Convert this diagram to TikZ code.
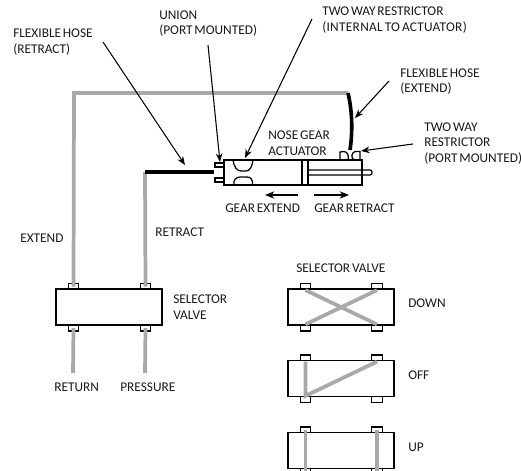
\documentclass[tikz,border=0pt]{standalone}
\usepackage{fontspec}
\setmainfont[WordSpace=0.6]{Carlito}
\usetikzlibrary{arrows.meta}
\definecolor{pipe}{HTML}{A9A9A9}
\tikzset{
  x=0.75pt,y=-0.75pt,
  lbl/.style={inner sep=0pt,anchor=west,align=left,font=\fontsize{10pt}{11.6pt}\selectfont,text=black!90},
  outline/.style={draw=black,line width=0.95pt},
  box/.style={outline,fill=white,rectangle,inner sep=0pt,minimum width=79.5pt,minimum height=27pt},
  port/.style={outline,fill=white,rectangle,inner sep=0pt,minimum width=8pt,minimum height=4.5pt},
  pipeline/.style={draw=pipe,line width=2.8pt},
  hose/.style={draw=black,line width=2.7pt},
  lead/.style={draw=black,line width=0.8pt,-{Stealth[length=6.5pt,width=5pt]}},
  motion/.style={draw=black,line width=0.95pt,-{Stealth[length=7pt,width=5.5pt]}},
}
\begin{document}
\begin{tikzpicture}
\useasboundingbox (0,0) rectangle (521,471);
\clip (0,0) rectangle (521,471);
% coordinates
\coordinate (extcorner) at (74,93);
\coordinate (hosetop) at (348,93);
\coordinate (retcorner) at (145,172);
\coordinate (retend) at (214,172);
\coordinate (hosebot) at (350,150);
\coordinate (returnend) at (73,373);
\coordinate (pressend) at (145,373);
% pipes below ports
\node[port] (p1t) at (73.5,286.5) {};
\node[port] (p2t) at (145.5,286.5) {};
\node[port] (p1b) at (73.5,328) {};
\node[port] (p2b) at (145.5,328) {};
\draw[pipeline,line join=miter] (p1t.center) -- (extcorner) -- (hosetop);
\draw[pipeline] (p2t.center) -- (retcorner);
\draw[pipeline] (p1b.center) -- (returnend);
\draw[pipeline] (p2b.center) -- (pressend);
\node[box] (selector) at (109,307) {};
\draw[hose] (hosetop) .. controls (352,110) and (353,130) .. (hosebot);
\draw[hose] (retcorner) -- (retend);
% actuator
\node[outline,rectangle,inner sep=0pt,minimum width=103.5pt,minimum height=18.75pt] (actuator) at (293,172.5) {};
\node[outline,rectangle,inner sep=0pt,minimum width=4.5pt,minimum height=18.75pt] (piston) at (305,172.5) {};
\coordinate (rodA) at (308,170);
\coordinate (rodB) at (308,175);
\coordinate (rodC) at (372,170);
\coordinate (rodD) at (372,175);
\draw[outline,rounded corners=1.5pt] (rodA) -- (rodC) -- (rodD) -- (rodB);
\node[port,minimum width=6.75pt,minimum height=3pt] (unionA) at (219.5,165) {};
\node[port,minimum width=6.75pt,minimum height=3pt] (unionB) at (219.5,180) {};
% internal restrictor
\draw[outline] (233,160) .. controls (234,167) and (237,171) .. (241,171) -- (246,171) .. controls (250,171) and (252,167) .. (253,160);
\draw[outline] (234,185) .. controls (233,180) and (236,177) .. (240,177) -- (247,177) .. controls (251,177) and (253,180) .. (252.5,185);
% port restrictor
\draw[outline] (340,160) -- (340,152) -- (344,151.5) .. controls (348,152) and (349,156) .. (348,160);
\draw[outline] (360,151.5) -- (355,151.5) .. controls (351,153) and (351,158) .. (354,160) -- (360,160) -- cycle;
\coordinate (restport) at (361,151);
% right valves
\foreach \n/\y in {down/307,off/378.5,up/450.5}{
  \node[port] (\n a) at (305.5,\y-20.5) {};
  \node[port] (\n b) at (377,\y-20.5) {};
  \node[port] (\n c) at (305.5,\y+21) {};
  \node[port] (\n d) at (377,\y+21) {};
  \node[box] (\n) at (341,\y) {};
}
\draw[pipeline] (downa.south) -- (downd.north);
\draw[pipeline] (downb.south) -- (downc.north);
\draw[pipeline] (offa.south) -- (offc.north) -- (offb.south);
\draw[pipeline] (upa.center) -- (upc.south);
\draw[pipeline] (upb.center) -- (upd.south);
% labels
\node[lbl] (flexret) at (13,42) {FLEXIBLE HOSE\\(RETRACT)};
\node[lbl] (union) at (159,23.5) {UNION\\(PORT MOUNTED)};
\node[lbl] (twoint) at (322,20) {TWO WAY RESTRICTOR\\\addfontfeature{LetterSpace=2.2}(INTERNAL TO ACTUATOR)};
\node[lbl] (flexext) at (400,81.5) {FLEXIBLE HOSE\\(EXTEND)};
\node[lbl] (twoport) at (424,143.5) {TWO WAY\\RESTRICTOR\\(PORT MOUNTED)};
\node[lbl] (nose) at (268,143) {NOSE GEAR\\ACTUATOR};
\node[lbl] (gearext) at (225,208) {GEAR EXTEND};
\node[lbl] (gearret) at (314,208) {GEAR RETRACT};
\node[lbl] (extend) at (20,238) {EXTEND};
\node[lbl] (retract) at (155,232) {RETRACT};
\node[lbl] (selname) at (173,307) {SELECTOR\\VALVE};
\node[lbl] (return) at (54,387) {RETURN};
\node[lbl] (pressure) at (120,387) {PRESSURE};
\node[lbl] (seltitle) at (296,268) {SELECTOR VALVE};
\node[lbl] (ldown) at (408,303) {DOWN};
\node[lbl] (loff) at (408,375) {OFF};
\node[lbl] (lup) at (408,447) {UP};
% leaders
\coordinate (a1) at (103,42); \coordinate (a1e) at (185,165);
\coordinate (a2) at (208,45); \coordinate (a2e) at (220,162);
\coordinate (a3) at (312,19); \coordinate (a3e) at (245,158);
\coordinate (a4) at (389,81); \coordinate (a4e) at (355,118);
\coordinate (a5) at (413,144);
\draw[lead] (a1) -- (a1e);
\draw[lead] (a2) -- (a2e);
\draw[lead] (a3) -- (a3e);
\draw[lead] (a4) -- (a4e);
\draw[lead] (a5) -- (restport);
\coordinate (m1) at (298,195); \coordinate (m1e) at (265,195);
\coordinate (m2) at (314,195); \coordinate (m2e) at (349,195);
\draw[motion] (m1) -- (m1e);
\draw[motion] (m2) -- (m2e);
\end{tikzpicture}
\end{document}
